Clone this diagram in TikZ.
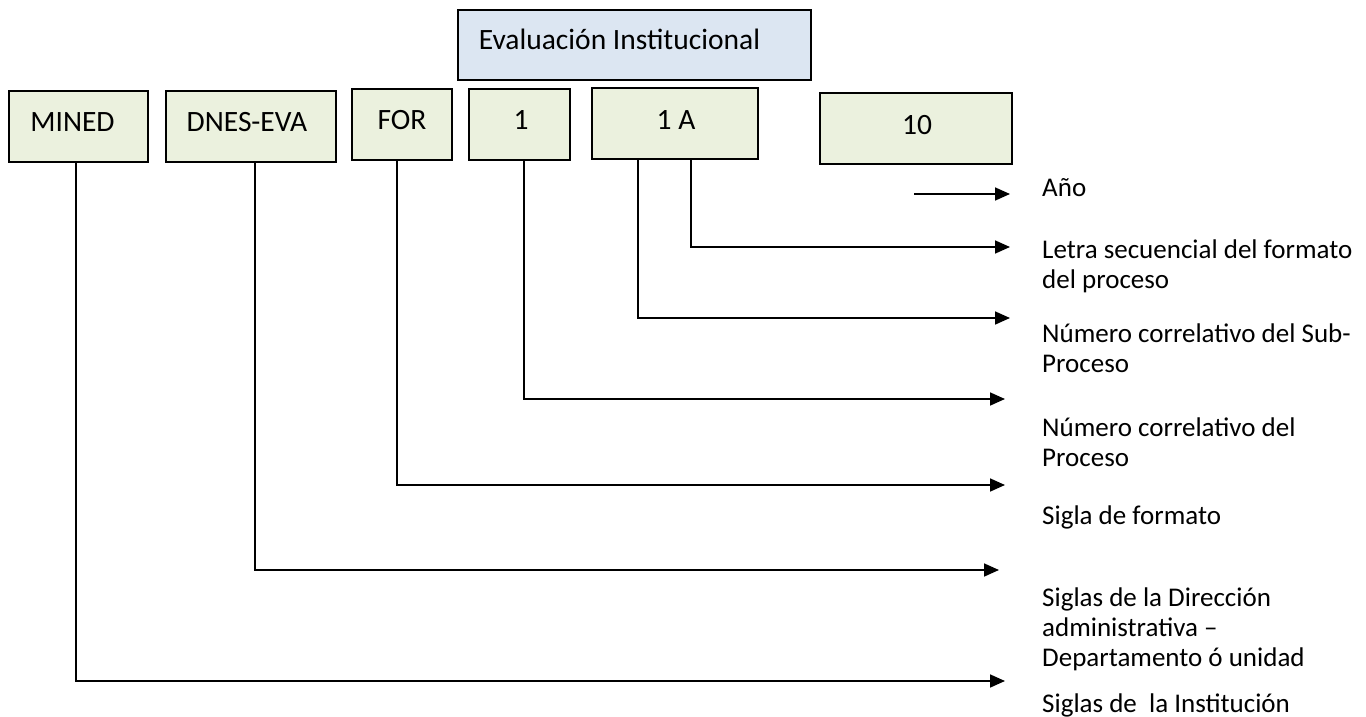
\documentclass[tikz,border=0pt]{standalone}
\usepackage{fontspec}
\setmainfont{Carlito}
\usetikzlibrary{arrows.meta}
\definecolor{boxgreen}{HTML}{EBF1DE}
\definecolor{boxblue}{HTML}{DCE6F2}
\begin{document}
\begin{tikzpicture}[x=1pt,y=-1pt,
  codebox/.style={draw=black, line width=1.3pt, fill=boxgreen, inner sep=0pt},
  titlebox/.style={codebox, fill=boxblue},
  boxtext/.style={inner sep=0pt, font=\fontsize{29.5}{33}\selectfont, text height=19pt, text depth=0pt},
  lbl/.style={anchor=base west, inner sep=0pt, align=left, font=\fontsize{27}{30}\selectfont},
  conn/.style={line width=1.7pt, -{Triangle[length=15pt,width=13pt]}},
]
\useasboundingbox (0,0) rectangle (1366,717);

% code segments
\node[titlebox, minimum width=353pt, minimum height=70pt] (eval) at (634.5,45) {};
\node[codebox, minimum width=139pt, minimum height=71pt] (mined) at (78.5,126.5) {};
\node[codebox, minimum width=170pt, minimum height=71pt] (dnes) at (251,126.5) {};
\node[codebox, minimum width=100pt, minimum height=71pt] (for) at (402,124.5) {};
\node[codebox, minimum width=101pt, minimum height=71pt] (one) at (519.5,124.5) {};
\node[codebox, minimum width=166pt, minimum height=71pt] (oneA) at (675,123.5) {};
\node[codebox, minimum width=192pt, minimum height=71pt] (ten) at (916,128.5) {};

% segment texts
\node[boxtext] (evaltxt) at (619.5,40) {Evaluación Institucional};
\node[boxtext] (minedtxt) at (72.5,122) {MINED};
\node[boxtext] (dnestxt) at (247,122) {DNES-EVA};
\node[boxtext] (fortxt) at (402,119.5) {FOR};
\node[boxtext] (onetxt) at (521,119.5) {1};
\node[boxtext] (oneAtxt) at (676,119.5) {1 A};
\node[boxtext] (tentxt) at (917,125) {10};

% arrow ends
\coordinate (anoStart) at (914,194);
\coordinate (tipAno) at (1010,194);
\coordinate (tipLetra) at (1010,247);
\coordinate (tipSub) at (1010,318);
\coordinate (tipProc) at (1005,399);
\coordinate (tipFor) at (1005,485);
\coordinate (tipDnes) at (999,570);
\coordinate (tipMined) at (1005,681);

% connectors
\draw[conn] (anoStart) -- (tipAno);
\draw[conn] ([xshift=16pt]oneA.south) |- (tipLetra);
\draw[conn] ([xshift=-37pt]oneA.south) |- (tipSub);
\draw[conn] ([xshift=4.5pt]one.south) |- (tipProc);
\draw[conn] ([xshift=-5pt]for.south) |- (tipFor);
\draw[conn] ([xshift=4pt]dnes.south) |- (tipDnes);
\draw[conn] ([xshift=-2.5pt]mined.south) |- (tipMined);

% meanings (base anchor sits on the last line)
\node[lbl] (lAno) at (1042,196.5) {Año};
\node[lbl] (lLetra) at (1042,288.5) {Letra secuencial del formato\\del proceso};
\node[lbl] (lSub) at (1042,372.5) {Número correlativo del Sub-\\Proceso};
\node[lbl] (lProc) at (1042,466.5) {Número correlativo del\\Proceso};
\node[lbl] (lFor) at (1042,524.5) {Sigla de formato};
\node[lbl] (lDnes) at (1042,666.5) {Siglas de la Dirección\\administrativa –\\Departamento ó unidad};
\node[lbl] (lMined) at (1042,712) {Siglas de\ \ la Institución};
\end{tikzpicture}
\end{document}
